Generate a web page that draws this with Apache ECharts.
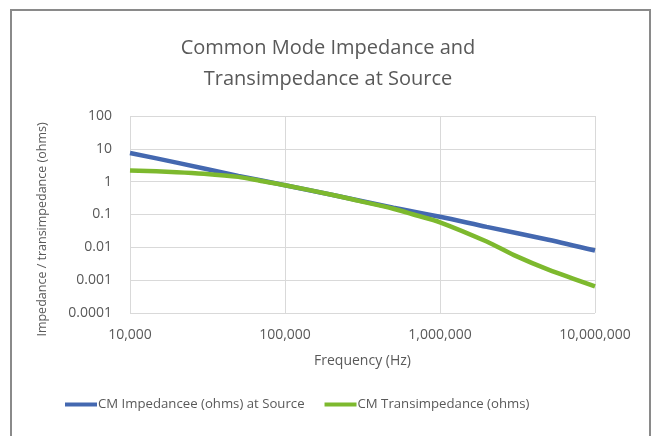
<!DOCTYPE html>
<html><head><meta charset="utf-8">
<script src="https://cdn.jsdelivr.net/npm/echarts@6/dist/echarts.min.js"></script>
<style>html,body{margin:0;padding:0;background:#fff}#c{width:656px;height:436px}</style>
</head><body><div id="c"></div>
<script>
const freqBlue = [10000, 20000, 50000, 100000, 200000, 500000, 1000000, 2000000, 5000000, 10000000];
const cmImpedance = [7.5, 3.8, 1.5, 0.78, 0.4, 0.16, 0.085, 0.042, 0.017, 0.008];
const freqGreen = [10000, 20000, 30000, 50000, 70000, 100000, 200000, 300000, 500000, 700000, 1000000, 2000000, 3000000, 5000000, 10000000];
const cmTransimpedance = [2.2, 1.95, 1.75, 1.4, 1.05, 0.78, 0.4, 0.26, 0.15, 0.095, 0.058, 0.015, 0.0058, 0.0021, 0.00065];
const seriesNames = ['CM Impedancee (ohms) at Source', 'CM Transimpedance (ohms)'];
const titleText = 'Common Mode Impedance and\nTransimpedance at Source';
const xName = 'Frequency (Hz)';
const yName = 'Impedance / transimpedance (ohms)';

const chart = echarts.init(document.getElementById('c'), null, {renderer: 'canvas'});
const font = '"Open Sans", sans-serif';
chart.setOption({
  animation: false,
  textStyle: {fontFamily: font},
  graphic: [{type: 'rect', shape: {x: 11, y: 10, width: 639, height: 440}, style: {fill: 'none', stroke: '#8a8a8a', lineWidth: 2}}],
  title: {text: titleText, left: 'center', top: 28, textStyle: {fontFamily: font, fontSize: 20, fontWeight: 'normal', color: '#595959', lineHeight: 31}},
  grid: {left: 130, right: 61, top: 116, bottom: 123},
  xAxis: {type: 'log', logBase: 10, min: 10000, max: 10000000,
    name: xName, nameLocation: 'middle', nameGap: 41, nameTextStyle: {fontFamily: font, fontSize: 14, color: '#595959'},
    axisLine: {show: false}, axisTick: {show: false},
    splitLine: {show: true, lineStyle: {color: '#d9d9d9', width: 1}},
    axisLabel: {fontFamily: font, fontSize: 14, color: '#595959', margin: 15, formatter: v => Math.round(v).toLocaleString('en-US')}},
  yAxis: {type: 'log', logBase: 10, min: 0.0001, max: 100,
    name: yName, nameLocation: 'middle', nameGap: 81, nameTextStyle: {fontFamily: font, fontSize: 12.5, color: '#595959', padding: [0, 30, 0, 0]},
    axisLine: {show: false}, axisTick: {show: false},
    splitLine: {show: true, lineStyle: {color: '#d9d9d9', width: 1}},
    axisLabel: {fontFamily: font, fontSize: 14, color: '#595959', margin: 18, formatter: v => { const s = Number(v.toPrecision(1)); return s >= 1 ? String(s) : s.toFixed(Math.round(-Math.log10(s))); }}},
  legend: {bottom: 20, left: 60, itemWidth: 32, itemHeight: 4, itemGap: 20, icon: 'rect',
    textStyle: {fontFamily: font, fontSize: 13.2, color: '#595959', padding: [0,0,0,-4]}, data: seriesNames},
  series: [
    {name: seriesNames[0], type: 'line', data: freqBlue.map((f, i) => [f, cmImpedance[i]]), smooth: 0.3, showSymbol: false, symbol: 'none', lineStyle: {width: 4.5, color: '#4468B0'}, itemStyle: {color: '#4468B0'}},
    {name: seriesNames[1], type: 'line', data: freqGreen.map((f, i) => [f, cmTransimpedance[i]]), smooth: 0.3, showSymbol: false, symbol: 'none', lineStyle: {width: 4.5, color: '#7DB92E'}, itemStyle: {color: '#7DB92E'}}
  ]
});
</script></body></html>
